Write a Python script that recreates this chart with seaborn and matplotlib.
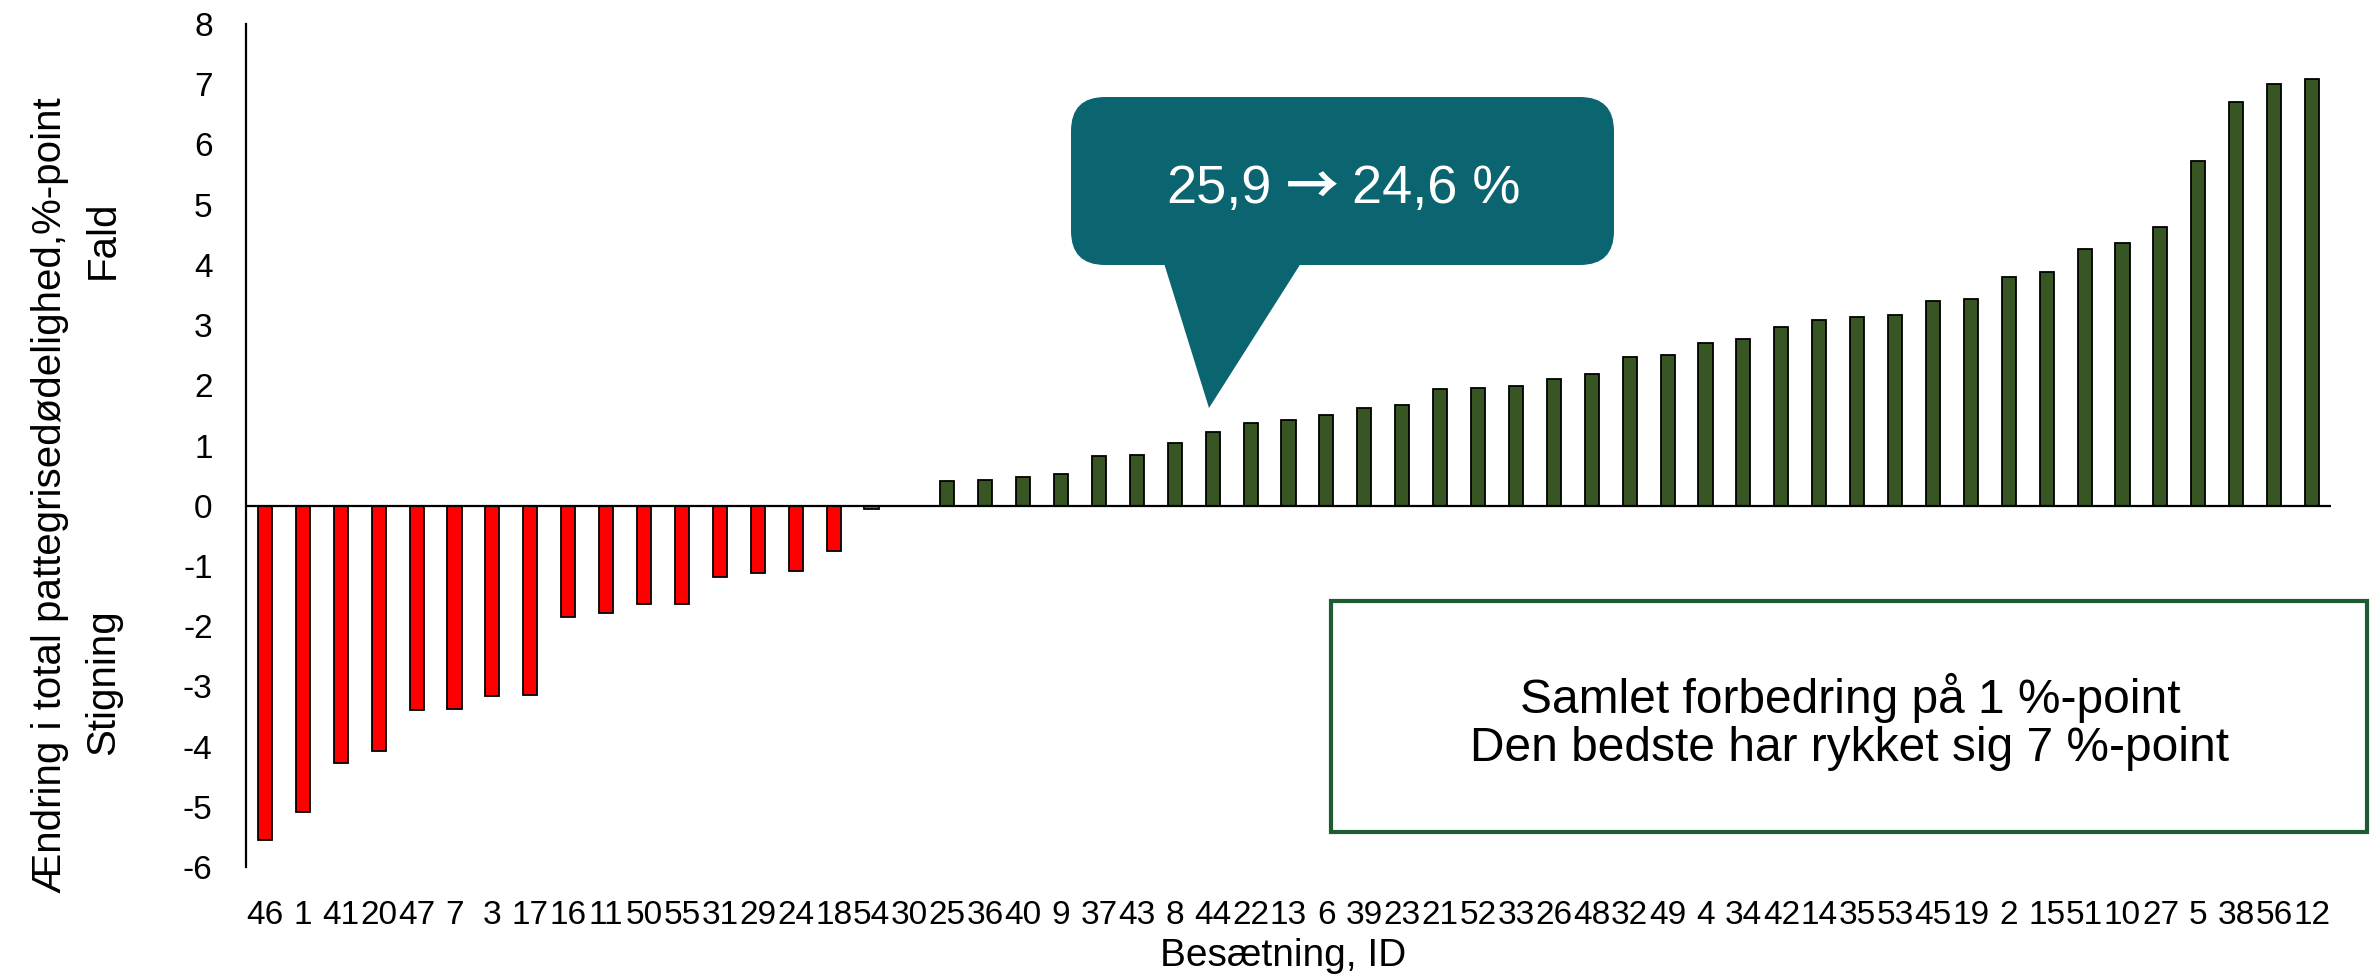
import pandas as pd
import matplotlib
matplotlib.use('Agg')
import matplotlib.pyplot as plt
import seaborn as sns
from matplotlib import font_manager
from matplotlib.patches import FancyBboxPatch, Polygon, Rectangle
from matplotlib.transforms import IdentityTransform

# Data: change in total piglet mortality per herd (%-point), sorted
ids = ["46", "1", "41", "20", "47", "7", "3", "17", "16", "11", "50", "55", "31", "29",
       "24", "18", "54", "30", "25", "36", "40", "9", "37", "43", "8", "44", "22", "13",
       "6", "39", "23", "21", "52", "33", "26", "48", "32", "49", "4", "34", "42", "14",
       "35", "53", "45", "19", "2", "15", "51", "10", "27", "5", "38", "56", "12"]
values = [-5.55, -5.08, -4.27, -4.07, -3.40, -3.37, -3.16, -3.15, -1.84, -1.79, -1.64,
          -1.63, -1.18, -1.11, -1.08, -0.76, -0.05, 0.0, 0.41, 0.43, 0.48, 0.52, 0.82,
          0.85, 1.04, 1.22, 1.37, 1.42, 1.51, 1.63, 1.67, 1.94, 1.95, 1.99, 2.11, 2.18,
          2.47, 2.51, 2.70, 2.77, 2.97, 3.08, 3.14, 3.17, 3.40, 3.43, 3.80, 3.88, 4.26,
          4.37, 4.63, 5.72, 6.70, 7.01, 7.09]
y_ticks = list(range(-6, 9))

df = pd.DataFrame({'id': ids, 'vaerdi': values})
df['gruppe'] = ['lille' if abs(v) < 0.1 else ('neg' if v < 0 else 'pos') for v in df['vaerdi']]
farver = {'neg': '#FF0000', 'pos': '#375623', 'lille': '#4472C4'}

sns.set_style('white')
plt.rcParams['font.family'] = ['Liberation Sans', 'DejaVu Sans']
plt.rcParams['axes.unicode_minus'] = False
plt.rcParams['text.color'] = 'black'
plt.rcParams['xtick.color'] = 'black'
plt.rcParams['ytick.color'] = 'black'

# narrow font for the y-axis title if available
try:
    font_manager.findfont('Liberation Sans Narrow', fallback_to_default=False)
    smal = ['Liberation Sans Narrow', 'Liberation Sans']
    smal_str = 34
except Exception:
    smal = ['Liberation Sans']
    smal_str = 29

W, H = 2372, 980
fig = plt.figure(figsize=(W / 100, H / 100), dpi=100)
ax = fig.add_axes([246 / W, 1 - 867 / H, (2331 - 246) / W, (867 - 24) / H])

sns.barplot(data=df, x='id', y='vaerdi', hue='gruppe', palette=farver, order=ids,
            dodge=False, width=0.37, edgecolor='black', linewidth=1.3, saturation=1,
            legend=False, ax=ax)

ax.axhline(0, color='black', lw=1.6, zorder=1)
ax.set_ylim(-6, 8)
ax.set_xlim(-0.5, len(ids) - 0.5)
ax.set_yticks(y_ticks)
ax.set_yticklabels([str(t) for t in y_ticks], fontsize=24)
ax.tick_params(axis='x', length=0, pad=24, labelsize=24)
ax.tick_params(axis='y', length=0, pad=24)
ax.set_xlabel('')
ax.set_ylabel('')
for s in ['top', 'right', 'bottom']:
    ax.spines[s].set_visible(False)
ax.spines['left'].set_color('black')
ax.spines['left'].set_linewidth(1.6)

# axis titles
fig.text(50 / W, 1 - 495 / H, 'Ændring i total pattegrisedødelighed,%-point', rotation=90,
         ha='center', va='center', fontsize=smal_str, family=smal)
fig.text(103 / W, 1 - 240 / H, 'Fald', rotation=90, ha='center', va='center',
         fontsize=smal_str, family=smal)
fig.text(103 / W, 1 - 682 / H, 'Stigning', rotation=90, ha='center', va='center',
         fontsize=smal_str, family=smal)
fig.text(1283 / W, 1 - 956 / H, 'Besætning, ID', ha='center', va='center', fontsize=28)

# speech bubble
teal = '#0A6570'
boble = FancyBboxPatch((1071, 715), 543, 168, boxstyle='round,pad=0,rounding_size=34',
                       fc=teal, ec='none', transform=IdentityTransform())
spids = Polygon([(1163, 720), (1303, 720), (1209, 572)], closed=True, fc=teal, ec='none',
                transform=IdentityTransform())
fig.add_artist(boble)
fig.add_artist(spids)
ty = 1 - 189 / H
fig.text(1272 / W, ty, '25,9', color='white', ha='right', va='center', fontsize=39)
fig.text(1312 / W, ty, '→', color='white', ha='center', va='center', fontsize=38,
         fontweight='bold', family=['Noto Sans CJK JP', 'DejaVu Sans'])
fig.text(1352 / W, ty, '24,6 %', color='white', ha='left', va='center', fontsize=39)

# text box
kasse = Rectangle((1331, 148), 1036, 231, fc='white', ec='#1D5C31', lw=3,
                  transform=IdentityTransform())
fig.add_artist(kasse)
fig.text(1850 / W, 1 - 722 / H, 'Samlet forbedring på 1 %-point\nDen bedste har rykket sig 7 %-point',
         ha='center', va='center', fontsize=34.5, linespacing=1.1)

fig.savefig('out.png', dpi=100)
